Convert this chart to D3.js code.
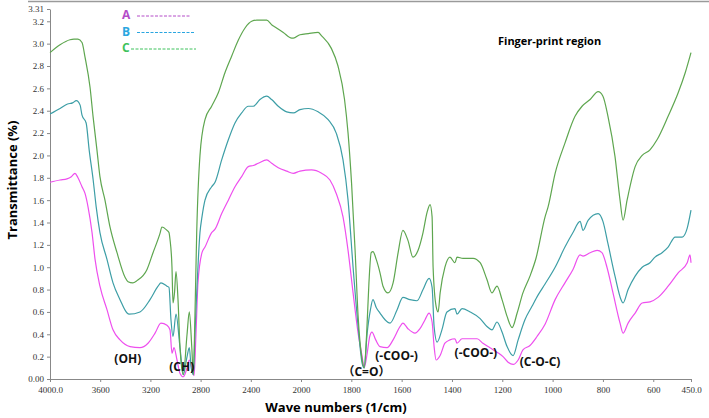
<!DOCTYPE html>
<html>
<head>
<meta charset="utf-8">
<script src="https://cdn.jsdelivr.net/npm/d3@7"></script>
<style>
  body { margin: 0; background: #fff; }
  svg { display: block; }
  .axis path, .axis line { stroke: #888; }
  .axis .tick text { font-family: "Times New Roman", "Liberation Serif", "DejaVu Serif", serif; font-size: 9px; fill: #333; }
  .title, .note, .legend text { font-family: "Open Sans", "Noto Sans CJK SC", sans-serif; font-weight: 700; }
</style>
</head>
<body>
<svg id="chart" width="709" height="418"></svg>
<script>
// tick values and labels
const xTicks = [4000, 3600, 3200, 2800, 2400, 2000, 1800, 1600, 1400, 1200, 1000, 800, 600, 450]
const xTickLabels = ['4000.0', '3600', '3200', '2800', '2400', '2000', '1800', '1600', '1400', '1200', '1000', '800', '600', '450.0']
const yTicks = [0, 0.2, 0.4, 0.6, 0.8, 1.0, 1.2, 1.4, 1.6, 1.8, 2.0, 2.2, 2.4, 2.6, 2.8, 3.0, 3.2, 3.31]
const yTickLabels = ['0.00', '0.2', '0.4', '0.6', '0.8', '1.0', '1.2', '1.4', '1.6', '1.8', '2.0', '2.2', '2.4', '2.6', '2.8', '3.0', '3.2', '3.31']

// series: [wave number, transmittance]
const seriesA = [
  [4000, 1.76], [3920, 1.78], [3865, 1.79], [3830, 1.81], [3801, 1.84], [3777, 1.80],
  [3745, 1.72], [3721, 1.66], [3697, 1.54], [3665, 1.31], [3641, 1.07], [3602, 0.83],
  [3546, 0.62], [3498, 0.44], [3442, 0.35], [3362, 0.29], [3283, 0.28], [3219, 0.32],
  [3163, 0.41], [3116, 0.50], [3068, 0.48], [3044, 0.44], [3028, 0.23], [3012, 0.28],
  [2988, 0.17], [2964, 0.05], [2938, 0.02], [2908, 0.10], [2890, 0.17], [2870, 0.10],
  [2852, 0.03], [2837, 0.40], [2821, 0.86], [2789, 1.13], [2765, 1.18], [2712, 1.31],
  [2685, 1.34], [2632, 1.48], [2579, 1.60], [2526, 1.72], [2473, 1.81], [2420, 1.90],
  [2380, 1.91], [2340, 1.93], [2273, 1.96], [2234, 1.93], [2181, 1.89], [2114, 1.86],
  [2061, 1.84], [2008, 1.86], [1958, 1.87], [1918, 1.84], [1885, 1.78], [1860, 1.66],
  [1833, 1.45], [1813, 1.15], [1793, 0.77], [1773, 0.41], [1757, 0.20], [1749, 0.10],
  [1737, 0.23], [1727, 0.38], [1718, 0.42], [1703, 0.35], [1686, 0.29], [1658, 0.28],
  [1634, 0.35], [1606, 0.47], [1595, 0.50], [1575, 0.45], [1547, 0.41], [1527, 0.45],
  [1507, 0.53], [1491, 0.59], [1479, 0.51], [1471, 0.29], [1463, 0.17], [1447, 0.21],
  [1428, 0.32], [1408, 0.35], [1388, 0.36], [1380, 0.32], [1360, 0.36], [1300, 0.36],
  [1277, 0.32], [1249, 0.28], [1221, 0.24], [1197, 0.20], [1177, 0.15], [1157, 0.13],
  [1137, 0.17], [1118, 0.26], [1090, 0.30], [1062, 0.38], [1030, 0.49], [990, 0.71],
  [951, 0.86], [919, 0.98], [891, 1.11], [879, 1.10], [851, 1.13], [823, 1.15],
  [804, 1.13], [784, 1.00], [760, 0.77], [732, 0.50], [720, 0.41], [700, 0.50],
  [672, 0.59], [644, 0.68], [613, 0.69], [581, 0.73], [541, 0.83], [501, 0.95],
  [465, 1.04], [454, 1.11], [450, 1.04]
]

const seriesB = [
  [4000, 2.37], [3920, 2.42], [3860, 2.46], [3820, 2.47], [3790, 2.49], [3760, 2.45],
  [3745, 2.36], [3712, 2.29], [3688, 2.05], [3656, 1.78], [3632, 1.54], [3602, 1.31],
  [3546, 1.07], [3498, 0.86], [3442, 0.71], [3386, 0.59], [3370, 0.58], [3283, 0.60],
  [3203, 0.71], [3139, 0.83], [3116, 0.86], [3068, 0.83], [3052, 0.82], [3036, 0.53],
  [3020, 0.38], [2996, 0.58], [2964, 0.28], [2938, 0.04], [2908, 0.20], [2890, 0.28],
  [2875, 0.10], [2858, 0.04], [2845, 0.41], [2831, 0.77], [2805, 1.31], [2789, 1.45],
  [2765, 1.60], [2712, 1.72], [2685, 1.76], [2632, 1.96], [2579, 2.14], [2526, 2.29],
  [2473, 2.38], [2420, 2.44], [2380, 2.44], [2327, 2.50], [2273, 2.53], [2234, 2.50],
  [2181, 2.44], [2114, 2.39], [2061, 2.38], [2008, 2.41], [1971, 2.42], [1932, 2.39],
  [1892, 2.32], [1860, 2.20], [1833, 1.96], [1813, 1.60], [1793, 1.00], [1773, 0.47],
  [1757, 0.14], [1749, 0.10], [1737, 0.41], [1724, 0.62], [1714, 0.71], [1701, 0.64],
  [1686, 0.59], [1666, 0.53], [1646, 0.50], [1618, 0.62], [1595, 0.73], [1567, 0.71],
  [1539, 0.70], [1515, 0.80], [1491, 0.90], [1479, 0.82], [1471, 0.47], [1459, 0.33],
  [1440, 0.44], [1420, 0.60], [1388, 0.63], [1380, 0.58], [1360, 0.63], [1328, 0.60],
  [1288, 0.54], [1261, 0.47], [1241, 0.44], [1221, 0.51], [1201, 0.42], [1181, 0.29],
  [1157, 0.21], [1137, 0.35], [1110, 0.53], [1082, 0.65], [1058, 0.75], [1030, 0.85],
  [990, 1.00], [951, 1.18], [919, 1.31], [891, 1.41], [879, 1.33], [859, 1.42],
  [819, 1.48], [800, 1.41], [780, 1.21], [752, 0.92], [728, 0.71], [720, 0.68],
  [700, 0.80], [672, 0.92], [644, 1.00], [613, 1.04], [593, 1.09], [565, 1.13],
  [541, 1.18], [513, 1.27], [485, 1.27], [465, 1.35], [450, 1.51]
]

const seriesC = [
  [4000, 2.92], [3920, 2.99], [3841, 3.035], [3809, 3.04], [3777, 3.04], [3745, 3.01],
  [3721, 2.88], [3681, 2.61], [3657, 2.35], [3626, 2.05], [3602, 1.81], [3562, 1.60],
  [3522, 1.36], [3466, 1.13], [3402, 0.91], [3378, 0.87], [3340, 0.86], [3307, 0.88],
  [3227, 0.98], [3179, 1.13], [3124, 1.30], [3108, 1.36], [3068, 1.33], [3052, 1.31],
  [3044, 1.25], [3028, 1.00], [3020, 0.68], [3008, 0.77], [2996, 0.96], [2980, 0.71],
  [2964, 0.28], [2938, 0.04], [2908, 0.40], [2890, 0.60], [2870, 0.28], [2858, 0.04],
  [2845, 0.57], [2831, 1.31], [2805, 2.00], [2765, 2.32], [2712, 2.44], [2659, 2.56],
  [2606, 2.74], [2552, 2.89], [2500, 3.03], [2446, 3.14], [2393, 3.20], [2353, 3.21],
  [2300, 3.21], [2273, 3.21], [2234, 3.17], [2207, 3.15], [2141, 3.10], [2074, 3.05],
  [2061, 3.05], [2008, 3.08], [1971, 3.09], [1932, 3.10], [1918, 3.07], [1880, 2.96],
  [1853, 2.80], [1827, 2.50], [1813, 2.20], [1799, 1.75], [1785, 1.15], [1773, 0.56],
  [1757, 0.17], [1749, 0.10], [1739, 0.41], [1730, 0.86], [1721, 1.13], [1714, 1.14],
  [1701, 1.07], [1686, 0.95], [1674, 0.83], [1654, 0.77], [1634, 0.86], [1614, 1.13],
  [1595, 1.33], [1575, 1.24], [1555, 1.09], [1535, 1.15], [1515, 1.31], [1499, 1.49],
  [1487, 1.56], [1479, 1.45], [1475, 1.00], [1463, 0.65], [1455, 0.60], [1447, 0.77],
  [1428, 1.00], [1408, 1.09], [1388, 1.04], [1380, 1.09], [1356, 1.08], [1316, 1.08],
  [1288, 1.04], [1261, 0.89], [1241, 0.77], [1221, 0.83], [1201, 0.71], [1181, 0.56],
  [1161, 0.46], [1141, 0.59], [1118, 0.77], [1090, 0.92], [1066, 1.08], [1030, 1.45],
  [1018, 1.54], [990, 1.84], [951, 2.11], [911, 2.35], [883, 2.44], [851, 2.50],
  [819, 2.57], [800, 2.53], [780, 2.35], [752, 1.99], [732, 1.60], [720, 1.42],
  [704, 1.60], [672, 1.90], [644, 2.00], [613, 2.05], [585, 2.14], [541, 2.35],
  [501, 2.56], [473, 2.74], [450, 2.92]
]

const seriesNames = ['A', 'B', 'C']
const notes = ['(OH)', '(CH)', '（C=O）', '(-COO-)', '(-COO-)', '(C-O-C)']
const noteWaves = [3380, 2950, 1740, 1620, 1305, 1050]
const noteValues = [0.18, 0.11, 0.06, 0.21, 0.23, 0.15]

const colors = { A: '#ee4fee', B: '#3d9ea6', C: '#5ea64f' }
const legendColors = { A: '#b44cc8', B: '#2aa6e0', C: '#3fc25c' }

const svg = d3.select('#chart')

// piecewise scale: the spectrum is stretched below 2000
const x = d3.scaleLinear().domain([4000, 2000, 450]).range([50, 301, 691])
const y = d3.scaleLinear().domain([0, 3.31]).range([379, 9])

// frame line at the top
svg.append('line')
  .attr('x1', 28).attr('x2', 709)
  .attr('y1', 1.5).attr('y2', 1.5)
  .attr('stroke', '#9a9a9a')
  .attr('stroke-width', 1.5)

svg.append('g')
  .attr('class', 'axis')
  .attr('transform', `translate(0, ${y(0)})`)
  .call(d3.axisBottom(x).tickValues(xTicks).tickSize(3).tickSizeOuter(0)
    .tickFormat((d, i) => xTickLabels[i]))
  .call(g => g.selectAll('.tick text').attr('dy', '0.9em'))

svg.append('g')
  .attr('class', 'axis')
  .attr('transform', `translate(${x(4000)}, 0)`)
  .call(d3.axisLeft(y).tickValues(yTicks).tickSize(3).tickSizeOuter(0)
    .tickFormat((d, i) => yTickLabels[i]))

// spectra
const line = d3.line()
  .x(d => x(d[0]))
  .y(d => y(d[1]))
  .curve(d3.curveMonotoneX)

const data = { A: seriesA, B: seriesB, C: seriesC }
seriesNames.forEach(name => {
  svg.append('path')
    .datum(data[name])
    .attr('d', line)
    .attr('fill', 'none')
    .attr('stroke', colors[name])
    .attr('stroke-width', 1.2)
})

// legend
const legend = svg.append('g').attr('class', 'legend')
seriesNames.forEach((name, i) => {
  let ly = 15 + i * 16.5
  legend.append('text')
    .attr('x', 122)
    .attr('y', ly)
    .attr('dy', '0.35em')
    .attr('font-size', 12)
    .attr('fill', legendColors[name])
    .text(name)
  legend.append('line')
    .attr('x1', name === 'C' ? 131 : 137)
    .attr('x2', [190, 195, 196][i])
    .attr('y1', ly + 1).attr('y2', ly + 1)
    .attr('stroke', legendColors[name])
    .attr('stroke-width', 1)
    .attr('stroke-dasharray', '3,1.5')
})

svg.append('text')
  .attr('class', 'note')
  .attr('x', 498)
  .attr('y', 41)
  .attr('dy', '0.35em')
  .attr('font-size', 11)
  .text('Finger-print region')

// band annotations
notes.forEach((t, i) => {
  svg.append('text')
    .attr('class', 'note')
    .attr('x', x(noteWaves[i]))
    .attr('y', y(noteValues[i]))
    .attr('dy', '0.35em')
    .attr('text-anchor', 'middle')
    .attr('font-size', 12)
    .attr('fill', '#111')
    .text(t)
})

// axis titles
svg.append('text')
  .attr('class', 'title')
  .attr('transform', 'translate(12, 180) rotate(-90)')
  .attr('text-anchor', 'middle')
  .attr('dy', '0.35em')
  .attr('font-size', 13)
  .text('Transmittance (%)')

svg.append('text')
  .attr('class', 'title')
  .attr('x', 336)
  .attr('y', 407)
  .attr('dy', '0.35em')
  .attr('text-anchor', 'middle')
  .attr('font-size', 13)
  .text('Wave numbers (1/cm)')
</script>
</body>
</html>
